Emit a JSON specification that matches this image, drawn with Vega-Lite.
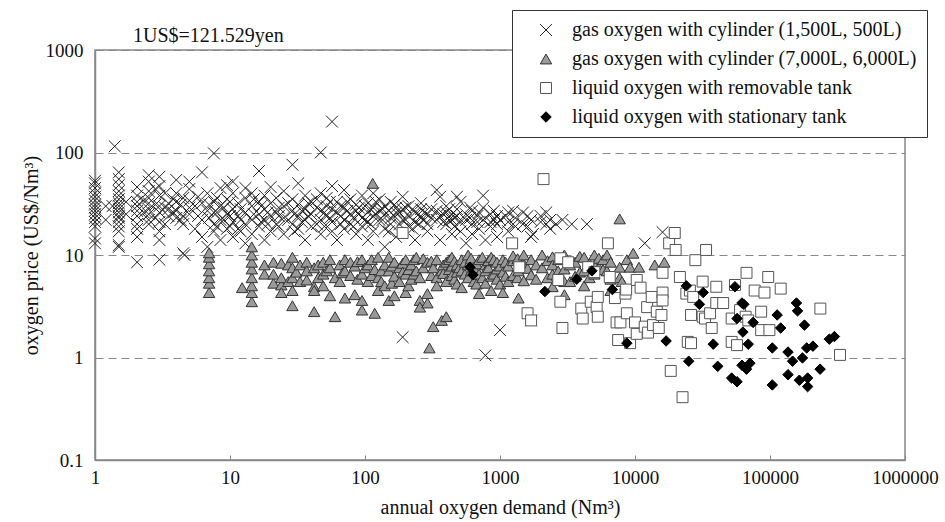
{
"$schema": "https://vega.github.io/schema/vega-lite/v6.json",
"width": 810, "height": 410,
"autosize": {"type": "none"},
"padding": {"left": 95, "top": 50, "right": 40, "bottom": 62},
"background": "white",
"config": {"view": {"stroke": "#888", "strokeWidth": 1.5}, "font": "Liberation Serif"},
"data": {"values": [
{"s":"A","x":1,"y":13},{"s":"A","x":1,"y":14.5},{"s":"A","x":1,"y":19},{"s":"A","x":1,"y":21},{"s":"A","x":1,"y":23},{"s":"A","x":1,"y":25},{"s":"A","x":1,"y":27},{"s":"A","x":1,"y":29},{"s":"A","x":1,"y":31},{"s":"A","x":1,"y":34},{"s":"A","x":1,"y":37},{"s":"A","x":1,"y":40},{"s":"A","x":1,"y":45},{"s":"A","x":1,"y":50},{"s":"A","x":1,"y":53},
{"s":"A","x":1.4,"y":115},{"s":"A","x":1.35,"y":30},{"s":"A","x":1.2,"y":22},{"s":"A","x":1.2,"y":30},
{"s":"A","x":1.5,"y":12},{"s":"A","x":1.5,"y":12.5},{"s":"A","x":1.5,"y":17},{"s":"A","x":1.5,"y":19},{"s":"A","x":1.5,"y":21},{"s":"A","x":1.5,"y":23},{"s":"A","x":1.5,"y":24},{"s":"A","x":1.5,"y":26},{"s":"A","x":1.5,"y":28},{"s":"A","x":1.5,"y":30},{"s":"A","x":1.5,"y":32},{"s":"A","x":1.5,"y":35},{"s":"A","x":1.5,"y":38},{"s":"A","x":1.5,"y":42},{"s":"A","x":1.5,"y":48},{"s":"A","x":1.5,"y":55},{"s":"A","x":1.5,"y":64},
{"s":"A","x":1.7,"y":25},{"s":"A","x":1.7,"y":33},
{"s":"A","x":2.05,"y":8.5},{"s":"A","x":2.05,"y":15},{"s":"A","x":2.05,"y":18},{"s":"A","x":2.05,"y":20},{"s":"A","x":2.05,"y":24},{"s":"A","x":2.05,"y":27},{"s":"A","x":2.05,"y":30},{"s":"A","x":2.05,"y":33},{"s":"A","x":2.05,"y":38},{"s":"A","x":2.05,"y":46},
{"s":"A","x":2.3,"y":26},{"s":"A","x":2.3,"y":34},
{"s":"A","x":2.5,"y":20},{"s":"A","x":2.5,"y":22},{"s":"A","x":2.5,"y":25},{"s":"A","x":2.5,"y":28},{"s":"A","x":2.5,"y":32},{"s":"A","x":2.5,"y":36},{"s":"A","x":2.5,"y":42},{"s":"A","x":2.5,"y":52},{"s":"A","x":2.5,"y":60},
{"s":"A","x":2.8,"y":23},{"s":"A","x":2.8,"y":31},{"s":"A","x":2.8,"y":44},
{"s":"A","x":3,"y":9},{"s":"A","x":3,"y":14},{"s":"A","x":3,"y":17},{"s":"A","x":3,"y":21},{"s":"A","x":3,"y":26},{"s":"A","x":3,"y":30},{"s":"A","x":3,"y":38},{"s":"A","x":3,"y":47},{"s":"A","x":3,"y":58},
{"s":"A","x":3.3,"y":20},{"s":"A","x":3.3,"y":29},{"s":"A","x":3.3,"y":40},
{"s":"A","x":3.5,"y":24},{"s":"A","x":3.5,"y":28},{"s":"A","x":3.5,"y":32},{"s":"A","x":3.8,"y":26},{"s":"A","x":3.8,"y":35},
{"s":"A","x":4,"y":23},{"s":"A","x":4,"y":27},{"s":"A","x":4,"y":33},{"s":"A","x":4,"y":40},{"s":"A","x":4,"y":54},{"s":"A","x":4.3,"y":22},{"s":"A","x":4.3,"y":31},
{"s":"A","x":4.5,"y":10.4},{"s":"A","x":4.6,"y":10},{"s":"A","x":4.5,"y":20},{"s":"A","x":4.5,"y":24},{"s":"A","x":4.5,"y":36},
{"s":"A","x":5,"y":25},{"s":"A","x":5,"y":29},{"s":"A","x":5,"y":34},{"s":"A","x":5,"y":44},{"s":"A","x":5,"y":52},
{"s":"A","x":5.5,"y":18},{"s":"A","x":5.5,"y":30},{"s":"A","x":5.8,"y":24},{"s":"A","x":5.8,"y":37},
{"s":"A","x":6.2,"y":64},{"s":"A","x":6.2,"y":32},{"s":"A","x":6.2,"y":22},{"s":"A","x":6.2,"y":15},
{"s":"A","x":6.8,"y":12},{"s":"A","x":6.8,"y":27},{"s":"A","x":6.8,"y":40},{"s":"A","x":7,"y":23},{"s":"A","x":7,"y":31},
{"s":"A","x":7.6,"y":98},{"s":"A","x":7.6,"y":26},{"s":"A","x":7.6,"y":33},{"s":"A","x":7.6,"y":20},{"s":"A","x":7.6,"y":17},
{"s":"A","x":8,"y":19},{"s":"A","x":8,"y":26},{"s":"A","x":8,"y":36},
{"s":"A","x":8.5,"y":22},{"s":"A","x":8.5,"y":30},{"s":"A","x":8.5,"y":45},{"s":"A","x":8.5,"y":14},
{"s":"A","x":9,"y":22},{"s":"A","x":9,"y":29},
{"s":"A","x":9.5,"y":25},{"s":"A","x":9.5,"y":35},{"s":"A","x":9.5,"y":18},{"s":"A","x":9.5,"y":48},
{"s":"A","x":10,"y":24},{"s":"A","x":10,"y":33},{"s":"A","x":10,"y":19},
{"s":"A","x":10.5,"y":28},{"s":"A","x":10.5,"y":21},{"s":"A","x":10.5,"y":40},{"s":"A","x":10.5,"y":15},{"s":"A","x":10.5,"y":52},
{"s":"A","x":11.5,"y":24},{"s":"A","x":11.5,"y":32},{"s":"A","x":11.5,"y":18},
{"s":"A","x":12,"y":28},{"s":"A","x":12,"y":22},{"s":"A","x":12,"y":17},
{"s":"A","x":13,"y":26},{"s":"A","x":13,"y":36},{"s":"A","x":13,"y":20},{"s":"A","x":13,"y":45},{"s":"A","x":13,"y":13},
{"s":"A","x":14.5,"y":22},{"s":"A","x":14.5,"y":30},{"s":"A","x":14.5,"y":16},{"s":"A","x":14.5,"y":40},
{"s":"A","x":15,"y":25},{"s":"A","x":15,"y":35},
{"s":"A","x":16.4,"y":66},{"s":"A","x":16.4,"y":25},{"s":"A","x":16.4,"y":33},{"s":"A","x":16.4,"y":19},
{"s":"A","x":17,"y":21},{"s":"A","x":17,"y":30},
{"s":"A","x":18,"y":28},{"s":"A","x":18,"y":22},{"s":"A","x":18,"y":38},{"s":"A","x":18,"y":14},
{"s":"A","x":19,"y":26},{"s":"A","x":19,"y":20},
{"s":"A","x":20,"y":24},{"s":"A","x":20,"y":32},{"s":"A","x":20,"y":17},{"s":"A","x":20,"y":46},
{"s":"A","x":22,"y":26},{"s":"A","x":22,"y":20},{"s":"A","x":22,"y":36},
{"s":"A","x":23,"y":29},{"s":"A","x":23,"y":19},{"s":"A","x":23,"y":24},
{"s":"A","x":25,"y":23},{"s":"A","x":25,"y":30},{"s":"A","x":25,"y":42},{"s":"A","x":25,"y":16},
{"s":"A","x":27,"y":22},{"s":"A","x":27,"y":32},
{"s":"A","x":29,"y":76},{"s":"A","x":29,"y":27},{"s":"A","x":29,"y":20},{"s":"A","x":29,"y":35},
{"s":"A","x":30,"y":25},{"s":"A","x":30,"y":17},
{"s":"A","x":32,"y":24},{"s":"A","x":32,"y":31},{"s":"A","x":32,"y":18},{"s":"A","x":32,"y":50},
{"s":"A","x":34,"y":27},{"s":"A","x":34,"y":21},
{"s":"A","x":36,"y":28},{"s":"A","x":36,"y":22},{"s":"A","x":36,"y":38},{"s":"A","x":36,"y":14},
{"s":"A","x":38,"y":24},{"s":"A","x":38,"y":32},
{"s":"A","x":40,"y":25},{"s":"A","x":40,"y":33},{"s":"A","x":40,"y":19},
{"s":"A","x":44,"y":29},{"s":"A","x":44,"y":20},{"s":"A","x":44,"y":35},
{"s":"A","x":47,"y":100},{"s":"A","x":47,"y":27},{"s":"A","x":47,"y":22},{"s":"A","x":47,"y":40},{"s":"A","x":47,"y":16},
{"s":"A","x":50,"y":26},{"s":"A","x":50,"y":19},
{"s":"A","x":52,"y":24},{"s":"A","x":52,"y":30},{"s":"A","x":52,"y":36},
{"s":"A","x":55,"y":23},{"s":"A","x":55,"y":33},
{"s":"A","x":57,"y":200},{"s":"A","x":57,"y":21},{"s":"A","x":57,"y":28},{"s":"A","x":57,"y":47},{"s":"A","x":57,"y":17},
{"s":"A","x":62,"y":26},{"s":"A","x":62,"y":33},{"s":"A","x":62,"y":14},
{"s":"A","x":66,"y":24},{"s":"A","x":66,"y":30},{"s":"A","x":66,"y":20},
{"s":"A","x":70,"y":22},{"s":"A","x":70,"y":43},{"s":"A","x":70,"y":29},{"s":"A","x":70,"y":18},
{"s":"A","x":74,"y":27},{"s":"A","x":74,"y":33},
{"s":"A","x":78,"y":25},{"s":"A","x":78,"y":35},{"s":"A","x":78,"y":20},
{"s":"A","x":82,"y":23},{"s":"A","x":82,"y":19},
{"s":"A","x":86,"y":27},{"s":"A","x":86,"y":31},{"s":"A","x":86,"y":16},
{"s":"A","x":90,"y":29},{"s":"A","x":90,"y":25},
{"s":"A","x":95,"y":23},{"s":"A","x":95,"y":38},{"s":"A","x":95,"y":19},
{"s":"A","x":100,"y":22},{"s":"A","x":100,"y":30},
{"s":"A","x":105,"y":26},{"s":"A","x":105,"y":32},{"s":"A","x":105,"y":21},{"s":"A","x":105,"y":14},
{"s":"A","x":110,"y":28},{"s":"A","x":110,"y":20},
{"s":"A","x":115,"y":24},{"s":"A","x":115,"y":29},{"s":"A","x":115,"y":40},{"s":"A","x":115,"y":17},
{"s":"A","x":120,"y":25},{"s":"A","x":120,"y":33},
{"s":"A","x":128,"y":27},{"s":"A","x":128,"y":22},{"s":"A","x":128,"y":35},
{"s":"A","x":135,"y":22},{"s":"A","x":135,"y":28},
{"s":"A","x":140,"y":25},{"s":"A","x":140,"y":30},{"s":"A","x":140,"y":18},{"s":"A","x":140,"y":12},
{"s":"A","x":150,"y":27},{"s":"A","x":150,"y":17},
{"s":"A","x":155,"y":23},{"s":"A","x":155,"y":33},{"s":"A","x":155,"y":20},
{"s":"A","x":165,"y":24},{"s":"A","x":165,"y":31},
{"s":"A","x":170,"y":26},{"s":"A","x":170,"y":29},{"s":"A","x":170,"y":15},
{"s":"A","x":180,"y":20},{"s":"A","x":180,"y":26},
{"s":"A","x":190,"y":37},{"s":"A","x":190,"y":22},{"s":"A","x":190,"y":1.58},{"s":"A","x":190,"y":28},
{"s":"A","x":200,"y":29},{"s":"A","x":200,"y":22},
{"s":"A","x":210,"y":24},{"s":"A","x":210,"y":30},{"s":"A","x":210,"y":19},
{"s":"A","x":225,"y":28},{"s":"A","x":225,"y":18},
{"s":"A","x":235,"y":26},{"s":"A","x":235,"y":21},{"s":"A","x":235,"y":14},
{"s":"A","x":250,"y":25},{"s":"A","x":250,"y":20},
{"s":"A","x":260,"y":28},{"s":"A","x":260,"y":23},{"s":"A","x":260,"y":32},
{"s":"A","x":275,"y":26},{"s":"A","x":275,"y":22},
{"s":"A","x":290,"y":25},{"s":"A","x":290,"y":20},{"s":"A","x":290,"y":17},
{"s":"A","x":310,"y":28},{"s":"A","x":310,"y":23},
{"s":"A","x":340,"y":43},{"s":"A","x":340,"y":27},{"s":"A","x":340,"y":22},
{"s":"A","x":360,"y":37},{"s":"A","x":360,"y":24},{"s":"A","x":360,"y":14},
{"s":"A","x":380,"y":25},{"s":"A","x":380,"y":21},
{"s":"A","x":400,"y":26},{"s":"A","x":400,"y":20},{"s":"A","x":400,"y":30},
{"s":"A","x":420,"y":28},{"s":"A","x":420,"y":22},
{"s":"A","x":440,"y":25},{"s":"A","x":440,"y":16},{"s":"A","x":440,"y":22},
{"s":"A","x":460,"y":23},{"s":"A","x":460,"y":19},
{"s":"A","x":480,"y":37},{"s":"A","x":480,"y":24},{"s":"A","x":480,"y":28},
{"s":"A","x":510,"y":33},{"s":"A","x":510,"y":21},{"s":"A","x":510,"y":17},
{"s":"A","x":560,"y":25},{"s":"A","x":560,"y":22},{"s":"A","x":560,"y":13},
{"s":"A","x":600,"y":29},{"s":"A","x":600,"y":23},
{"s":"A","x":620,"y":27},{"s":"A","x":620,"y":20},{"s":"A","x":620,"y":16},
{"s":"A","x":680,"y":24},{"s":"A","x":680,"y":21},
{"s":"A","x":700,"y":26},{"s":"A","x":700,"y":18},
{"s":"A","x":750,"y":38},{"s":"A","x":750,"y":29},{"s":"A","x":750,"y":22},{"s":"A","x":780,"y":1.05},{"s":"A","x":780,"y":14},
{"s":"A","x":850,"y":25},{"s":"A","x":850,"y":19},{"s":"A","x":850,"y":21},
{"s":"A","x":900,"y":27},{"s":"A","x":900,"y":22},
{"s":"A","x":950,"y":24},{"s":"A","x":950,"y":20},{"s":"A","x":950,"y":15},
{"s":"A","x":1000,"y":1.85},{"s":"A","x":1000,"y":22},
{"s":"A","x":1100,"y":24},
{"s":"A","x":1150,"y":26},{"s":"A","x":1150,"y":21},{"s":"A","x":1150,"y":17},
{"s":"A","x":1250,"y":20},{"s":"A","x":1250,"y":27},
{"s":"A","x":1300,"y":23},{"s":"A","x":1300,"y":19},
{"s":"A","x":1480,"y":26},{"s":"A","x":1480,"y":20},
{"s":"A","x":1600,"y":24},{"s":"A","x":1600,"y":19},
{"s":"A","x":1700,"y":2.3},{"s":"A","x":1700,"y":22},{"s":"A","x":1700,"y":15},{"s":"A","x":1750,"y":16},
{"s":"A","x":2000,"y":24},{"s":"A","x":2000,"y":21},
{"s":"A","x":2200,"y":26},{"s":"A","x":2200,"y":20},
{"s":"A","x":2350,"y":22},{"s":"A","x":2350,"y":18},
{"s":"A","x":2600,"y":20},{"s":"A","x":2900,"y":22},{"s":"A","x":3400,"y":20},{"s":"A","x":4400,"y":20},
{"s":"A","x":11800,"y":13},{"s":"A","x":16000,"y":16.7},
{"s":"B","x":7,"y":4.3},{"s":"B","x":7,"y":5.3},{"s":"B","x":7,"y":6},{"s":"B","x":7,"y":7},{"s":"B","x":7,"y":8.2},{"s":"B","x":7,"y":9.5},{"s":"B","x":7,"y":10.5},
{"s":"B","x":12.3,"y":4.8},
{"s":"B","x":14.5,"y":3.5},{"s":"B","x":14.5,"y":4.3},{"s":"B","x":14.5,"y":5},{"s":"B","x":14.5,"y":6},{"s":"B","x":14.5,"y":7.3},{"s":"B","x":14.5,"y":8.5},{"s":"B","x":14.5,"y":10},{"s":"B","x":14.5,"y":12},
{"s":"B","x":18,"y":6.5},{"s":"B","x":18,"y":8},
{"s":"B","x":21,"y":8.5},{"s":"B","x":21,"y":5.3},{"s":"B","x":21,"y":6.5},
{"s":"B","x":24,"y":8.3},{"s":"B","x":24,"y":5.1},{"s":"B","x":24,"y":4.3},{"s":"B","x":24,"y":6},
{"s":"B","x":27,"y":5.5},{"s":"B","x":27,"y":8},
{"s":"B","x":29,"y":9.5},{"s":"B","x":29,"y":7.5},{"s":"B","x":29,"y":6},{"s":"B","x":29,"y":4.5},{"s":"B","x":29,"y":3.2},
{"s":"B","x":31,"y":6.8},
{"s":"B","x":33,"y":8},{"s":"B","x":33,"y":5.5},
{"s":"B","x":37,"y":8.5},{"s":"B","x":37,"y":5.7},{"s":"B","x":37,"y":7},
{"s":"B","x":42,"y":4.9},{"s":"B","x":42,"y":4.5},{"s":"B","x":42,"y":2.8},{"s":"B","x":42,"y":7.5},
{"s":"B","x":45,"y":6},{"s":"B","x":45,"y":8},
{"s":"B","x":49,"y":8.5},{"s":"B","x":49,"y":5},{"s":"B","x":49,"y":6.5},
{"s":"B","x":52,"y":7},
{"s":"B","x":55,"y":7.5},{"s":"B","x":55,"y":9},{"s":"B","x":55,"y":4},
{"s":"B","x":60,"y":2.5},{"s":"B","x":60,"y":6},
{"s":"B","x":65,"y":8},{"s":"B","x":65,"y":5.5},{"s":"B","x":68,"y":6.7},
{"s":"B","x":71,"y":3.8},{"s":"B","x":71,"y":7},{"s":"B","x":71,"y":9},
{"s":"B","x":78,"y":6.3},{"s":"B","x":78,"y":8.5},
{"s":"B","x":84,"y":4.1},{"s":"B","x":84,"y":7.8},
{"s":"B","x":88,"y":5.8},{"s":"B","x":88,"y":8.6},
{"s":"B","x":95,"y":3.6},{"s":"B","x":95,"y":2.9},{"s":"B","x":95,"y":6.5},{"s":"B","x":95,"y":9},
{"s":"B","x":100,"y":7.5},
{"s":"B","x":105,"y":8},{"s":"B","x":105,"y":5.5},
{"s":"B","x":112,"y":6.3},{"s":"B","x":112,"y":9},
{"s":"B","x":114,"y":50},
{"s":"B","x":118,"y":2.7},{"s":"B","x":118,"y":7.2},
{"s":"B","x":125,"y":9.5},{"s":"B","x":125,"y":6},{"s":"B","x":125,"y":4.5},
{"s":"B","x":132,"y":7},{"s":"B","x":132,"y":5.5},
{"s":"B","x":140,"y":8},{"s":"B","x":140,"y":5},
{"s":"B","x":150,"y":7},{"s":"B","x":150,"y":9.5},{"s":"B","x":150,"y":3.6},
{"s":"B","x":158,"y":7.8},{"s":"B","x":158,"y":5.3},
{"s":"B","x":165,"y":6.2},{"s":"B","x":165,"y":8.5},{"s":"B","x":165,"y":4},
{"s":"B","x":180,"y":7.5},{"s":"B","x":180,"y":5.5},
{"s":"B","x":190,"y":8.3},{"s":"B","x":190,"y":6.8},
{"s":"B","x":200,"y":9},{"s":"B","x":200,"y":6.5},{"s":"B","x":200,"y":4.3},
{"s":"B","x":210,"y":7.2},{"s":"B","x":210,"y":5},
{"s":"B","x":220,"y":8},{"s":"B","x":220,"y":5.8},
{"s":"B","x":230,"y":9},{"s":"B","x":230,"y":6.5},
{"s":"B","x":240,"y":7},{"s":"B","x":240,"y":9.5},
{"s":"B","x":255,"y":3.6},{"s":"B","x":255,"y":3.1},{"s":"B","x":255,"y":6},
{"s":"B","x":270,"y":7.5},{"s":"B","x":270,"y":9.2},
{"s":"B","x":290,"y":4.2},{"s":"B","x":290,"y":3.4},{"s":"B","x":290,"y":8.5},
{"s":"B","x":300,"y":1.24},
{"s":"B","x":310,"y":6.3},{"s":"B","x":310,"y":8.7},
{"s":"B","x":320,"y":2},{"s":"B","x":320,"y":7.5},
{"s":"B","x":340,"y":9},{"s":"B","x":340,"y":6},{"s":"B","x":340,"y":5},
{"s":"B","x":370,"y":2.3},{"s":"B","x":370,"y":7},
{"s":"B","x":380,"y":8},{"s":"B","x":380,"y":6.6},
{"s":"B","x":400,"y":2.5},{"s":"B","x":400,"y":8.5},{"s":"B","x":400,"y":5.5},
{"s":"B","x":420,"y":7.2},{"s":"B","x":420,"y":9},
{"s":"B","x":440,"y":7.8},{"s":"B","x":440,"y":6.3},{"s":"B","x":440,"y":9.5},
{"s":"B","x":460,"y":8.7},{"s":"B","x":460,"y":5.8},
{"s":"B","x":480,"y":6.8},{"s":"B","x":480,"y":5.2},{"s":"B","x":480,"y":8},
{"s":"B","x":500,"y":7.5},
{"s":"B","x":520,"y":9},{"s":"B","x":520,"y":7},{"s":"B","x":520,"y":4.8},
{"s":"B","x":550,"y":6.5},{"s":"B","x":550,"y":8.5},
{"s":"B","x":580,"y":8},{"s":"B","x":580,"y":6},{"s":"B","x":580,"y":10},
{"s":"B","x":610,"y":7},{"s":"B","x":610,"y":9.3},
{"s":"B","x":640,"y":7.5},{"s":"B","x":640,"y":5.5},
{"s":"B","x":670,"y":8.2},{"s":"B","x":670,"y":5.2},
{"s":"B","x":700,"y":9},{"s":"B","x":700,"y":6.5},{"s":"B","x":700,"y":4.2},
{"s":"B","x":740,"y":6},{"s":"B","x":740,"y":9.5},
{"s":"B","x":780,"y":8},{"s":"B","x":780,"y":7},{"s":"B","x":780,"y":5.3},
{"s":"B","x":820,"y":7.5},{"s":"B","x":820,"y":8.8},
{"s":"B","x":860,"y":6.2},{"s":"B","x":860,"y":9.5},{"s":"B","x":860,"y":4.5},
{"s":"B","x":900,"y":6.5},{"s":"B","x":900,"y":9},
{"s":"B","x":950,"y":7.3},{"s":"B","x":950,"y":8.5},{"s":"B","x":950,"y":5.8},
{"s":"B","x":1000,"y":7.8},{"s":"B","x":1000,"y":5.2},
{"s":"B","x":1050,"y":9},{"s":"B","x":1050,"y":6.8},{"s":"B","x":1050,"y":4.3},
{"s":"B","x":1100,"y":8.5},{"s":"B","x":1100,"y":6.2},
{"s":"B","x":1150,"y":7.8},{"s":"B","x":1150,"y":5.5},
{"s":"B","x":1250,"y":8.8},{"s":"B","x":1250,"y":6.3},{"s":"B","x":1250,"y":9.8},
{"s":"B","x":1350,"y":9.2},{"s":"B","x":1350,"y":6},
{"s":"B","x":1370,"y":3.8},{"s":"B","x":1370,"y":7},
{"s":"B","x":1500,"y":8.2},{"s":"B","x":1500,"y":5.6},{"s":"B","x":1500,"y":10},
{"s":"B","x":1600,"y":7.4},
{"s":"B","x":1700,"y":6.4},{"s":"B","x":1700,"y":9},
{"s":"B","x":1850,"y":8},{"s":"B","x":1850,"y":5.8},
{"s":"B","x":2050,"y":10},{"s":"B","x":2050,"y":7.5},
{"s":"B","x":2250,"y":8.8},{"s":"B","x":2250,"y":6},
{"s":"B","x":2450,"y":9.6},{"s":"B","x":2450,"y":6.5},{"s":"B","x":2450,"y":4.9},{"s":"B","x":2450,"y":8},
{"s":"B","x":2700,"y":9},{"s":"B","x":2700,"y":7},
{"s":"B","x":3000,"y":10},{"s":"B","x":3000,"y":7.3},{"s":"B","x":3000,"y":5.5},{"s":"B","x":3000,"y":4.1},
{"s":"B","x":3300,"y":8},{"s":"B","x":3300,"y":5.5},
{"s":"B","x":3600,"y":8.5},{"s":"B","x":3600,"y":6.2},
{"s":"B","x":3900,"y":9.7},{"s":"B","x":3900,"y":6.8},
{"s":"B","x":4200,"y":9.5},{"s":"B","x":4200,"y":7},{"s":"B","x":4200,"y":5},
{"s":"B","x":4600,"y":8.3},{"s":"B","x":4600,"y":6},
{"s":"B","x":5000,"y":8},{"s":"B","x":5000,"y":6.5},{"s":"B","x":5000,"y":10},
{"s":"B","x":5400,"y":9.3},{"s":"B","x":5400,"y":7.6},
{"s":"B","x":5800,"y":7.2},{"s":"B","x":5800,"y":9},
{"s":"B","x":6200,"y":7},{"s":"B","x":6200,"y":10},
{"s":"B","x":6600,"y":5.8},{"s":"B","x":6600,"y":8.5},{"s":"B","x":6600,"y":4.5},
{"s":"B","x":7700,"y":22.5},{"s":"B","x":7700,"y":7.6},{"s":"B","x":7700,"y":6},
{"s":"B","x":8000,"y":5.5},{"s":"B","x":8700,"y":9},{"s":"B","x":9200,"y":7.6},{"s":"B","x":9700,"y":10.4},{"s":"B","x":10700,"y":7.6},{"s":"B","x":14000,"y":8},{"s":"B","x":16500,"y":8.5},
{"s":"C","x":190,"y":16.4},{"s":"C","x":1230,"y":13},{"s":"C","x":1390,"y":7.6},{"s":"C","x":1600,"y":2.7},{"s":"C","x":1700,"y":2.3},{"s":"C","x":2100,"y":55},
{"s":"C","x":2700,"y":5.7},{"s":"C","x":2800,"y":9.3},{"s":"C","x":2800,"y":3.5},{"s":"C","x":2900,"y":1.94},{"s":"C","x":3200,"y":8.5},{"s":"C","x":4000,"y":3},{"s":"C","x":4100,"y":2.4},
{"s":"C","x":4500,"y":7.6},{"s":"C","x":4700,"y":3.5},{"s":"C","x":5000,"y":6.8},{"s":"C","x":5200,"y":3.1},{"s":"C","x":5300,"y":3.9},{"s":"C","x":5300,"y":2.5},{"s":"C","x":6300,"y":13},
{"s":"C","x":6500,"y":6.1},{"s":"C","x":7100,"y":3.8},{"s":"C","x":7300,"y":2.2},{"s":"C","x":7500,"y":1.48},{"s":"C","x":7800,"y":2.2},{"s":"C","x":8500,"y":4.2},{"s":"C","x":8600,"y":4.6},
{"s":"C","x":8700,"y":2.7},{"s":"C","x":9200,"y":1.38},{"s":"C","x":10000,"y":2.2},{"s":"C","x":10300,"y":1.7},{"s":"C","x":10300,"y":5.7},{"s":"C","x":11000,"y":4.8},{"s":"C","x":11800,"y":2},
{"s":"C","x":12300,"y":3.1},{"s":"C","x":12500,"y":1.75},{"s":"C","x":13300,"y":3.9},{"s":"C","x":13600,"y":2.07},{"s":"C","x":14500,"y":2.8},{"s":"C","x":15000,"y":1.94},{"s":"C","x":15700,"y":2.6},
{"s":"C","x":16000,"y":6.7},{"s":"C","x":16000,"y":4.3},{"s":"C","x":16000,"y":3.6},{"s":"C","x":17900,"y":13},{"s":"C","x":18400,"y":0.74},{"s":"C","x":19700,"y":16.4},{"s":"C","x":20000,"y":11.2},
{"s":"C","x":21500,"y":6.1},{"s":"C","x":22500,"y":0.41},{"s":"C","x":24000,"y":4.2},{"s":"C","x":24600,"y":1.42},{"s":"C","x":25500,"y":4.5},{"s":"C","x":26000,"y":2.6},{"s":"C","x":26000,"y":1.38},
{"s":"C","x":27000,"y":3.9},{"s":"C","x":28000,"y":8.9},{"s":"C","x":31700,"y":5.5},{"s":"C","x":31700,"y":2.5},{"s":"C","x":33000,"y":2.4},{"s":"C","x":33600,"y":11.2},{"s":"C","x":36000,"y":2.7},
{"s":"C","x":37000,"y":1.94},{"s":"C","x":40000,"y":4.9},{"s":"C","x":40000,"y":3.4},{"s":"C","x":45000,"y":3.4},{"s":"C","x":52000,"y":2.4},{"s":"C","x":52000,"y":1.42},{"s":"C","x":55000,"y":5.1},
{"s":"C","x":57000,"y":1.32},{"s":"C","x":60000,"y":2.9},{"s":"C","x":66000,"y":2.5},{"s":"C","x":67000,"y":6.7},{"s":"C","x":69000,"y":2.3},{"s":"C","x":77000,"y":4.5},{"s":"C","x":86000,"y":2.8},
{"s":"C","x":86000,"y":1.85},{"s":"C","x":91000,"y":4.3},{"s":"C","x":97000,"y":6.1},{"s":"C","x":99000,"y":1.85},{"s":"C","x":120000,"y":4.7},{"s":"C","x":236000,"y":3},{"s":"C","x":330000,"y":1.06},
{"s":"D","x":600,"y":7.6},{"s":"D","x":630,"y":6.4},{"s":"D","x":2150,"y":4.4},{"s":"D","x":3700,"y":5.8},{"s":"D","x":4800,"y":7},{"s":"D","x":6800,"y":4.6},{"s":"D","x":8700,"y":1.38},
{"s":"D","x":17000,"y":1.45},{"s":"D","x":24000,"y":5},{"s":"D","x":25000,"y":0.92},{"s":"D","x":30000,"y":3.3},{"s":"D","x":32000,"y":4.3},{"s":"D","x":38000,"y":1.35},{"s":"D","x":41000,"y":0.82},
{"s":"D","x":52000,"y":0.63},{"s":"D","x":55000,"y":4.9},{"s":"D","x":57000,"y":2.4},{"s":"D","x":57000,"y":0.58},{"s":"D","x":62000,"y":3.4},{"s":"D","x":62000,"y":0.84},{"s":"D","x":63000,"y":1.77},
{"s":"D","x":64000,"y":3.3},{"s":"D","x":67000,"y":0.77},{"s":"D","x":69000,"y":1.35},{"s":"D","x":71000,"y":0.88},{"s":"D","x":75000,"y":2.2},{"s":"D","x":104000,"y":1.24},{"s":"D","x":104000,"y":0.54},
{"s":"D","x":113000,"y":2.6},{"s":"D","x":120000,"y":1.94},{"s":"D","x":136000,"y":1.13},{"s":"D","x":136000,"y":0.68},{"s":"D","x":147000,"y":0.92},{"s":"D","x":157000,"y":3.4},{"s":"D","x":160000,"y":2.85},
{"s":"D","x":165000,"y":0.6},{"s":"D","x":174000,"y":0.99},{"s":"D","x":180000,"y":2.07},{"s":"D","x":187000,"y":1.24},{"s":"D","x":190000,"y":0.63},{"s":"D","x":190000,"y":0.52},{"s":"D","x":208000,"y":1.29},
{"s":"D","x":235000,"y":0.77},{"s":"D","x":275000,"y":1.51},{"s":"D","x":300000,"y":1.6}
]},
"layer": [
{
"mark": {"type": "point", "filled": true, "strokeWidth": 1, "opacity": 1},
"encoding": {
  "x": {"field": "x", "type": "quantitative", "scale": {"type": "log", "domain": [1, 1000000]},
    "axis": {"values": [1, 10, 100, 1000, 10000, 100000, 1000000], "labelExpr": "format(datum.value, 'd')", "title": "annual oxygen demand (Nm³)", "grid": false, "domainColor": "#888", "domainWidth": 1.5, "tickColor": "#888", "tickSize": -5, "tickWidth": 1, "labelPadding": 13, "labelFlush": false, "labelOverlap": false, "labelFont": "Liberation Serif", "labelFontSize": 19, "labelColor": "#111", "titleFont": "Liberation Serif", "titleFontSize": 20, "titleFontWeight": "normal", "titleColor": "#111", "titlePadding": 10}},
  "y": {"field": "y", "type": "quantitative", "scale": {"type": "log", "domain": [0.1, 1000]},
    "axis": {"values": [0.1, 1, 10, 100, 1000], "labelExpr": "datum.value < 1 ? '0.1' : format(datum.value, 'd')", "title": "oxygen price (US$/Nm³)", "grid": true, "gridDash": [8, 5], "gridColor": "#888", "gridWidth": 1.2, "domainColor": "#888", "domainWidth": 1.5, "tickColor": "#888", "tickSize": -5, "labelPadding": 17, "labelFlush": false, "labelOverlap": false, "labelFont": "Liberation Serif", "labelFontSize": 19, "labelColor": "#111", "titleFont": "Liberation Serif", "titleFontSize": 20, "titleFontWeight": "normal", "titleColor": "#111", "titlePadding": 4}},
  "shape": {"field": "s", "type": "nominal", "scale": {"domain": ["A", "B", "C", "D"], "range": ["M-1,-1L1,1M1,-1L-1,1", "triangle-up", "square", "diamond"]},
    "legend": {"orient": "none", "legendX": 417, "legendY": -40, "title": null, "labelExpr": "datum.value == 'A' ? 'gas oxygen with cylinder (1,500L, 500L)' : datum.value == 'B' ? 'gas oxygen with cylinder (7,000L, 6,000L)' : datum.value == 'C' ? 'liquid oxygen with removable tank' : 'liquid oxygen with stationary tank'", "labelFont": "Liberation Serif", "labelFontSize": 20, "labelColor": "#111", "labelLimit": 0, "strokeColor": "#333", "fillColor": "white", "padding": 10, "rowPadding": 9, "symbolOffset": 14, "labelOffset": 16, "symbolStrokeWidth": 1}},
  "fill": {"field": "s", "type": "nominal", "scale": {"domain": ["A", "B", "C", "D"], "range": ["transparent", "#9a9a9a", "#ffffff", "#000000"]}},
  "stroke": {"field": "s", "type": "nominal", "scale": {"domain": ["A", "B", "C", "D"], "range": ["#222222", "#333333", "#555555", "#000000"]}},
  "size": {"field": "s", "type": "nominal", "scale": {"domain": ["A", "B", "C", "D"], "range": [140, 110, 90, 100]}}
}
},
{
"data": {"values": [{"label": "1US$=121.529yen", "x": 1.91, "y": 1200}]},
"mark": {"type": "text", "align": "left", "baseline": "alphabetic", "font": "Liberation Serif", "fontSize": 20, "color": "#111"},
"encoding": {
  "x": {"field": "x", "type": "quantitative"},
  "y": {"field": "y", "type": "quantitative"},
  "text": {"field": "label", "type": "nominal"}
}
}
]
}
